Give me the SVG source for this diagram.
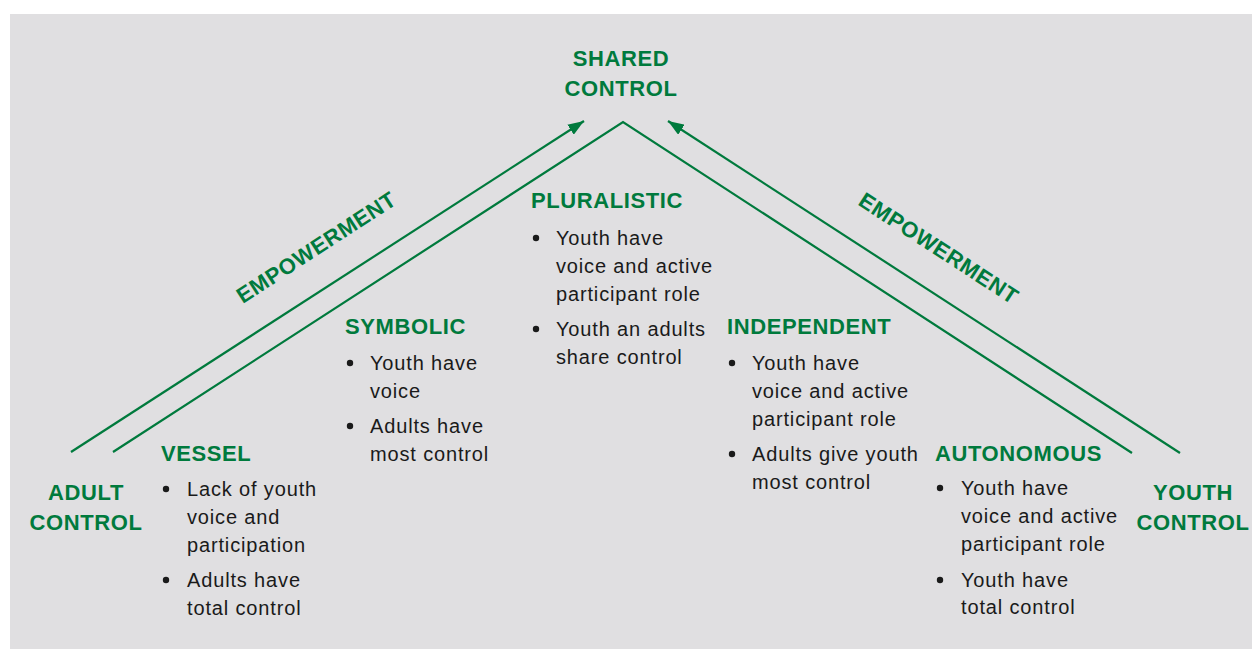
<svg xmlns="http://www.w3.org/2000/svg" width="1252" height="649" viewBox="0 0 1252 649">
<defs>
<style>
.bg{fill:#e0dfe1}
.ln{stroke:#007a3d;stroke-width:2.2;fill:none}
.h{font-family:"Liberation Sans",Arial,sans-serif;font-weight:bold;font-size:22px;fill:#007a3d;letter-spacing:0.6px}
.t{font-family:"Liberation Sans",Arial,sans-serif;font-size:20px;fill:#1a1a1a;letter-spacing:0.85px}
.b{fill:#1a1a1a}
</style>
<marker id="arr" viewBox="0 0 16 12" refX="16" refY="6" markerWidth="16" markerHeight="12" orient="auto" markerUnits="userSpaceOnUse">
<path d="M0,0 L16,6 L0,12 z" fill="#007a3d"/>
</marker>
</defs>
<rect class="bg" x="10" y="14" width="1242" height="635"/>
<g id="connectors">
<line class="ln" x1="71" y1="452" x2="584" y2="121" marker-end="url(#arr)"/>
<polyline class="ln" points="113,452 623,122 1132,453"/>
<line class="ln" x1="1180" y1="453" x2="668" y2="121" marker-end="url(#arr)"/>
</g>
<g id="shared-control">
<text class="h" x="621" y="66" text-anchor="middle">SHARED</text>
<text class="h" x="621" y="96" text-anchor="middle">CONTROL</text>
</g>
<g id="empowerment-left">
<text class="h" transform="translate(316,247) rotate(-33)" x="0" y="8" text-anchor="middle">EMPOWERMENT</text>
</g>
<g id="empowerment-right">
<text class="h" transform="translate(939,248) rotate(33)" x="0" y="8" text-anchor="middle">EMPOWERMENT</text>
</g>
<g id="adult-control">
<text class="h" x="86" y="500" text-anchor="middle">ADULT</text>
<text class="h" x="86" y="530" text-anchor="middle">CONTROL</text>
</g>
<g id="youth-control">
<text class="h" x="1193" y="500" text-anchor="middle">YOUTH</text>
<text class="h" x="1193" y="530" text-anchor="middle">CONTROL</text>
</g>
<g id="vessel">
<text class="h" x="161" y="461">VESSEL</text>
<circle class="b" cx="166" cy="489" r="3.2"/>
<text class="t" x="187" y="496">Lack of youth</text>
<text class="t" x="187" y="524">voice and</text>
<text class="t" x="187" y="552">participation</text>
<circle class="b" cx="166" cy="580" r="3.2"/>
<text class="t" x="187" y="587">Adults have</text>
<text class="t" x="187" y="615">total control</text>
</g>
<g id="symbolic">
<text class="h" x="345" y="334">SYMBOLIC</text>
<circle class="b" cx="350" cy="363" r="3.2"/>
<text class="t" x="370" y="370">Youth have</text>
<text class="t" x="370" y="398">voice</text>
<circle class="b" cx="350" cy="426" r="3.2"/>
<text class="t" x="370" y="433">Adults have</text>
<text class="t" x="370" y="461">most control</text>
</g>
<g id="pluralistic">
<text class="h" x="531" y="208">PLURALISTIC</text>
<circle class="b" cx="536" cy="238" r="3.2"/>
<text class="t" x="556" y="245">Youth have</text>
<text class="t" x="556" y="273">voice and active</text>
<text class="t" x="556" y="301">participant role</text>
<circle class="b" cx="536" cy="329" r="3.2"/>
<text class="t" x="556" y="336">Youth an adults</text>
<text class="t" x="556" y="364">share control</text>
</g>
<g id="independent">
<text class="h" x="727" y="334">INDEPENDENT</text>
<circle class="b" cx="732" cy="363" r="3.2"/>
<text class="t" x="752" y="370">Youth have</text>
<text class="t" x="752" y="398">voice and active</text>
<text class="t" x="752" y="426">participant role</text>
<circle class="b" cx="732" cy="454" r="3.2"/>
<text class="t" x="752" y="461">Adults give youth</text>
<text class="t" x="752" y="489">most control</text>
</g>
<g id="autonomous">
<text class="h" x="935" y="461">AUTONOMOUS</text>
<circle class="b" cx="940" cy="488" r="3.2"/>
<text class="t" x="961" y="495">Youth have</text>
<text class="t" x="961" y="523">voice and active</text>
<text class="t" x="961" y="551">participant role</text>
<circle class="b" cx="940" cy="580" r="3.2"/>
<text class="t" x="961" y="587">Youth have</text>
<text class="t" x="961" y="614">total control</text>
</g>
</svg>
